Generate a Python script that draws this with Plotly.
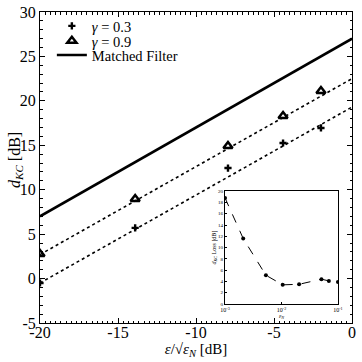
import plotly.graph_objects as go

# Main chart data
x_pts = [-20.0, -13.9, -7.95, -4.42, -1.99]
y_g03 = [-0.5, 5.7, 12.44, 15.26, 16.95]
y_g09 = [2.77, 8.96, 14.92, 18.3, 21.1]

line_x = [-20, 0]
fit03_y = [-0.5, 19.3]
fit09_y = [2.7, 22.5]
mf_y = [7.0, 27.0]

# Inset data
inset_x = [1e-3, 2.1e-3, 5.3e-3, 1.05e-2, 2.05e-2, 5.1e-2, 6.9e-2, 1e-1]
inset_y = [18.8, 11.6, 5.1, 3.4, 3.5, 4.4, 4.1, 3.9]
inset_tickvals = [1e-3, 1e-2, 1e-1]
inset_ticktext = ["10<sup>-3</sup>", "10<sup>-2</sup>", "10<sup>-1</sup>"]

FONT = "Liberation Serif, Times New Roman, serif"

fig = go.Figure()

fig.add_trace(go.Scatter(x=line_x, y=fit09_y, mode="lines", line=dict(color="black", width=1.6, dash="dot"),
                         showlegend=False, hoverinfo="skip"))
fig.add_trace(go.Scatter(x=line_x, y=fit03_y, mode="lines", line=dict(color="black", width=1.6, dash="dot"),
                         showlegend=False, hoverinfo="skip"))
fig.add_trace(go.Scatter(x=x_pts, y=y_g03, mode="markers", name="<i>γ</i> = 0.3", legend="legend",
                         marker=dict(symbol="cross", size=6, color="black", line=dict(width=0))))
fig.add_trace(go.Scatter(x=x_pts, y=y_g09, mode="markers", name="<i>γ</i> = 0.9", legend="legend2",
                         marker=dict(symbol="triangle-up-open", size=8, color="black", line=dict(width=2.5, color="black"))))
fig.add_trace(go.Scatter(x=line_x, y=mf_y, mode="lines", name="Matched Filter", legend="legend3",
                         line=dict(color="black", width=2.6)))

# Inset
fig.add_trace(go.Scatter(x=inset_x, y=inset_y, mode="lines+markers", xaxis="x2", yaxis="y2",
                         line=dict(color="black", width=1, dash="dash"),
                         marker=dict(symbol="circle", size=4, color="black"), showlegend=False))

axis_common = dict(showline=True, linecolor="black", linewidth=1, mirror="allticks", automargin=False,
                   ticks="inside", ticklen=5, tickcolor="black", showgrid=False, zeroline=False,
                   ticklabeloverflow="allow",
                   tickfont=dict(family=FONT, size=16, color="black"))

leg_common = dict(x=0.038, xanchor="left", yanchor="middle", bgcolor="rgba(0,0,0,0)",
                  font=dict(family=FONT, size=14.5, color="black"), itemwidth=30)

fig.update_layout(
    width=362, height=362,
    margin=dict(l=40, r=10, t=12, b=39, autoexpand=False),
    paper_bgcolor="white", plot_bgcolor="white",
    font=dict(family=FONT, color="black"),
    xaxis=dict(range=[-20, 0], tickvals=[-20, -15, -10, -5, 0], ticktext=["-20", "-15", "-10", "-5", "0"],
               minor=dict(ticks="inside", ticklen=2.5, dtick=5/15, tick0=-20, tickcolor="black"),
               ticklabelstandoff=-5,
               title=dict(text="<i>ε</i>/√<i>ε<sub>N</sub></i> [dB]", font=dict(family=FONT, size=15), standoff=0),
               domain=[0, 1], **axis_common),
    yaxis=dict(range=[-5, 30], tickvals=[-5, 0, 5, 10, 15, 20, 25, 30],
               ticktext=["-5", "0", "5", "10", "15", "20", "25", "30"],
               minor=dict(ticks="inside", ticklen=2.5, dtick=1, tickcolor="black"),
               domain=[0, 1], **axis_common),
    xaxis2=dict(type="log", range=[-3, -1], domain=[0.593, 0.955], anchor="y2", automargin=False,
                tickvals=inset_tickvals, ticktext=inset_ticktext,
                showline=True, linecolor="black", linewidth=0.8, mirror=True, ticks="inside", ticklen=2,
                tickcolor="black", showgrid=False, zeroline=False,
                tickfont=dict(family=FONT, size=6, color="black"),
                title=dict(text="<i>ε<sub>N</sub></i>", font=dict(family=FONT, size=6), standoff=0)),
    yaxis2=dict(range=[0, 20], domain=[0.061, 0.424], anchor="x2", dtick=2, automargin=False,
                showline=True, linecolor="black", linewidth=0.8, mirror=True, ticks="inside", ticklen=2,
                tickcolor="black", showgrid=False, zeroline=False,
                tickfont=dict(family=FONT, size=5, color="black"),
                title=dict(text="<i>d<sub>KC</sub></i> Loss [dB]", font=dict(family=FONT, size=6), standoff=1)),
    legend=dict(y=0.955, **leg_common),
    legend2=dict(y=0.907, **leg_common),
    legend3=dict(y=0.8617, **leg_common),
    annotations=[dict(text="<i>d<sub>KC</sub></i> [dB]", xref="paper", yref="paper", x=-0.08, y=0.524,
                      xanchor="center", yanchor="middle", textangle=-90, showarrow=False,
                      font=dict(family=FONT, size=16, color="black"))],
)

fig.write_html("out.html", post_script="document.body.style.margin='0px';",
               config={"displayModeBar": False})
